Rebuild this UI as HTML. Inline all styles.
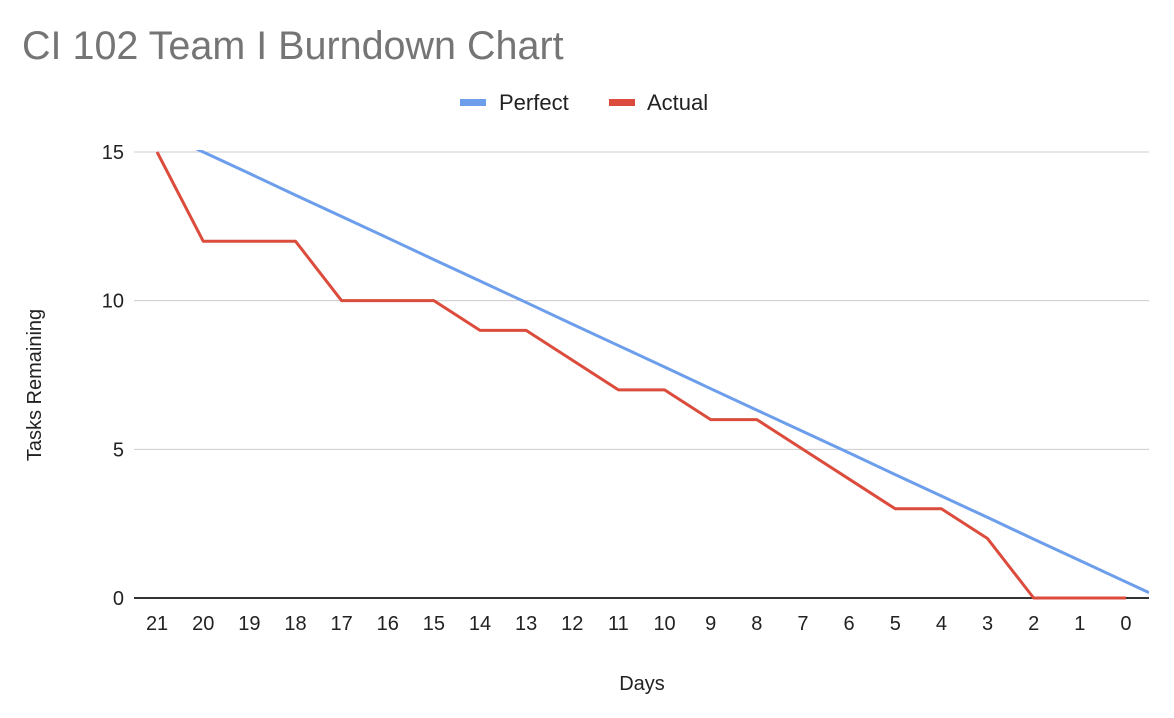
<!DOCTYPE html>
<html><head><meta charset="utf-8"><style>
body{margin:0;background:#fff;}
svg{display:block;font-family:"Liberation Sans",Arial,sans-serif;}
</style></head><body>
<svg id="chart" width="1174" height="718" viewBox="0 0 1174 718">
<text x="22" y="59" font-size="39.5" fill="#757575">CI 102 Team I Burndown Chart</text>
<g>
<rect x="460" y="99" width="26" height="7" fill="#6d9eeb"/>
<text x="499" y="110" font-size="22" fill="#222">Perfect</text>
<rect x="609" y="99" width="26" height="7" fill="#dc4c3c"/>
<text x="647" y="110" font-size="22" fill="#222">Actual</text>
</g>
<text transform="translate(41,385) rotate(-90)" text-anchor="middle" font-size="20" fill="#222">Tasks Remaining</text>
<text x="642" y="690" text-anchor="middle" font-size="20" fill="#222">Days</text>
<defs><clipPath id="plotclip"><rect x="134" y="150" width="1015" height="450"/></clipPath></defs>
<g id="grid"></g><g id="xticks"></g><g id="series" clip-path="url(#plotclip)"></g>
</svg>
<script>
const categories = ["21","20","19","18","17","16","15","14","13","12","11","10","9","8","7","6","5","4","3","2","1","0"];
const perfectValues = [15.72,15.0,14.28,13.55,12.83,12.11,11.38,10.66,9.94,9.21,8.49,7.77,7.04,6.32,5.60,4.88,4.15,3.43,2.71,1.98,1.26,0.54];
const actualValues = [15,12,12,12,10,10,10,9,9,8,7,7,6,6,5,4,3,3,2,0,0,0];
const yTicks = [0,5,10,15];

const NS="http://www.w3.org/2000/svg";
const plotLeft=134, plotRight=1149, plotTop=152, plotBottom=598, yMax=15;
const band=(plotRight-plotLeft)/categories.length;
function xScale(i){return plotLeft+band*(i+0.5);}
function yScale(v){return plotBottom-(v/yMax)*(plotBottom-plotTop);}
function mk(tag,attrs,parent){const e=document.createElementNS(NS,tag);for(const k in attrs)e.setAttribute(k,attrs[k]);parent.appendChild(e);return e;}

const grid=document.getElementById('grid');
yTicks.forEach(t=>{
  const l=mk('line',{x1:plotLeft,x2:plotRight,y1:yScale(t),y2:yScale(t),stroke:t===0?'#333':'#ccc','stroke-width':t===0?2:1},grid);
  
  
  const tx=mk('text',{x:124,y:yScale(t)+7,'text-anchor':'end','font-size':20,fill:'#222'},grid);
  tx.textContent=t;
  
  
});
const xt=document.getElementById('xticks');
categories.forEach((c,i)=>{
  const tx=mk('text',{x:xScale(i),y:630,'text-anchor':'middle','font-size':20,fill:'#222'},xt);
  tx.textContent=c;
  
  
});
const series=document.getElementById('series');
let pp=perfectValues.map((v,i)=>[xScale(i),yScale(v)]);
const n=perfectValues.length;
const slope=perfectValues[n-1]-perfectValues[n-2];
pp.push([plotRight,yScale(perfectValues[n-1]+slope*0.5)]);
const perf=mk('polyline',{points:pp.map(p=>p.join(',')).join(' '),fill:'none',stroke:'#6d9eeb','stroke-width':3,'stroke-linejoin':'round'},series);


const act=mk('polyline',{points:actualValues.map((v,i)=>xScale(i)+','+yScale(v)).join(' '),fill:'none',stroke:'#dc4c3c','stroke-width':3,'stroke-linejoin':'round'},series);


</script>
</body></html>
